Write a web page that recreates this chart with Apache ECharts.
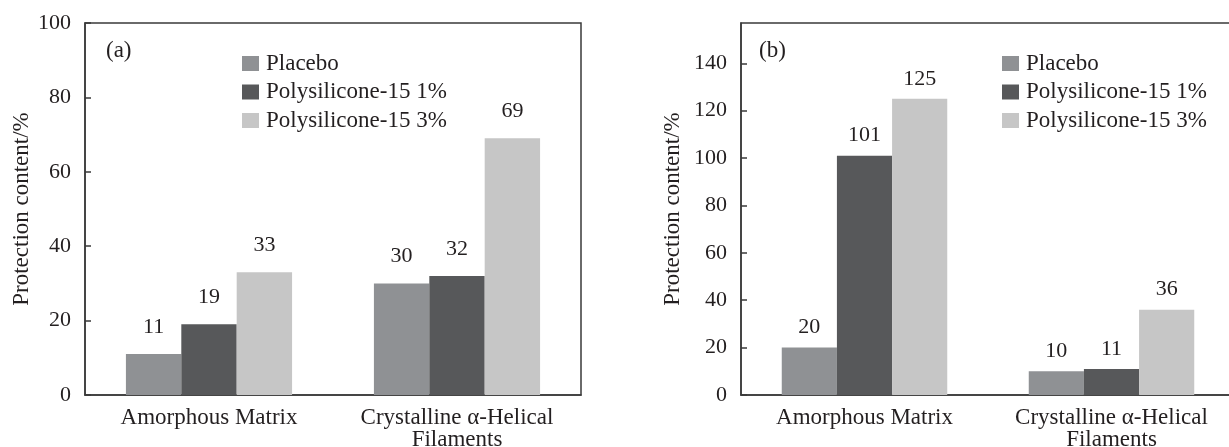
<!DOCTYPE html>
<html>
<head>
<meta charset="utf-8">
<script src="https://cdn.jsdelivr.net/npm/echarts@6/dist/echarts.min.js"></script>
<style>
  html, body { margin: 0; padding: 0; background: #fff; }
  #chart { width: 1229px; height: 447px; }
</style>
</head>
<body>
<div id="chart"></div>
<script>
// Categories shared by both panels
const categories = ['Amorphous Matrix', 'Crystalline \u03b1-Helical\nFilaments'];
const seriesNames = ['Placebo', 'Polysilicone-15 1%', 'Polysilicone-15 3%'];

// Panel (a) values
const panelA = {
  placebo: [11, 30],
  poly1: [19, 32],
  poly3: [33, 69]
};
// Panel (b) values
const panelB = {
  placebo: [20, 10],
  poly1: [101, 11],
  poly3: [125, 36]
};

const colors = ['#8f9194', '#57585a', '#c6c6c6'];
const textColor = '#231f20';
const lineColor = '#3a3a3a';
const font = 'Liberation Serif';
const fs = 22;
const fsBig = 23;

function yAxis(gridIndex, max, nameGap) {
  return {
    type: 'value', gridIndex: gridIndex, min: 0, max: max, interval: 20,
    name: 'Protection content/%', nameLocation: 'middle', nameGap: nameGap,
    nameTextStyle: { fontFamily: font, fontSize: fsBig, color: textColor },
    axisLine: { show: true, lineStyle: { color: lineColor, width: 1.5 } },
    axisTick: { show: true, inside: true, length: 6, lineStyle: { color: lineColor, width: 1.5 } },
    axisLabel: { fontFamily: font, fontSize: fs, color: textColor, margin: 14, showMaxLabel: max === 100 },
    splitLine: { show: false }
  };
}
function xAxis(gridIndex) {
  return {
    type: 'category', gridIndex: gridIndex, data: categories,
    axisLine: { show: true, lineStyle: { color: lineColor, width: 1.5 } },
    axisTick: { show: false },
    axisLabel: { fontFamily: font, fontSize: fsBig, lineHeight: 22, color: textColor, margin: 12, interval: 0 }
  };
}
function bar(name, data, idx, color, labelGap) {
  return {
    type: 'bar', name: name, data: data, xAxisIndex: idx, yAxisIndex: idx,
    barGap: '0%', barCategoryGap: '33%',
    itemStyle: { color: color },
    label: { show: true, position: 'top', distance: labelGap, fontFamily: font, fontSize: fs, color: textColor },
    animation: false
  };
}
function legend(left) {
  return {
    orient: 'vertical', left: left, top: 52, padding: 0,
    itemWidth: 17, itemHeight: 15, itemGap: 5.5,
    icon: 'rect',
    textStyle: { fontFamily: font, fontSize: fsBig, lineHeight: 22, color: textColor, padding: [0, 0, 0, 2] },
    data: seriesNames
  };
}

const chart = echarts.init(document.getElementById('chart'));
chart.setOption({
  backgroundColor: '#fff',
  animation: false,
  title: [
    { text: '(a)', left: 106, top: 39, padding: 0, textStyle: { fontFamily: font, fontSize: fsBig, fontWeight: 'normal', color: textColor } },
    { text: '(b)', left: 759, top: 39, padding: 0, textStyle: { fontFamily: font, fontSize: fsBig, fontWeight: 'normal', color: textColor } }
  ],
  legend: [legend(242), legend(1002)],
  grid: [
    { left: 85, top: 23, width: 496, height: 372, show: true, borderColor: lineColor, borderWidth: 1.5, containLabel: false, outerBoundsMode: 'none' },
    { left: 741, top: 23, width: 494, height: 372, show: true, borderColor: lineColor, borderWidth: 1.5, containLabel: false, outerBoundsMode: 'none' }
  ],
  xAxis: [xAxis(0), xAxis(1)],
  yAxis: [yAxis(0, 100, 52), yAxis(1, 157, 57)],
  series: [
    bar(seriesNames[0], panelA.placebo, 0, colors[0], 16),
    bar(seriesNames[1], panelA.poly1, 0, colors[1], 16),
    bar(seriesNames[2], panelA.poly3, 0, colors[2], 16),
    bar(seriesNames[0], panelB.placebo, 1, colors[0], 9),
    bar(seriesNames[1], panelB.poly1, 1, colors[1], 9),
    bar(seriesNames[2], panelB.poly3, 1, colors[2], 9)
  ]
});
</script>
</body>
</html>
